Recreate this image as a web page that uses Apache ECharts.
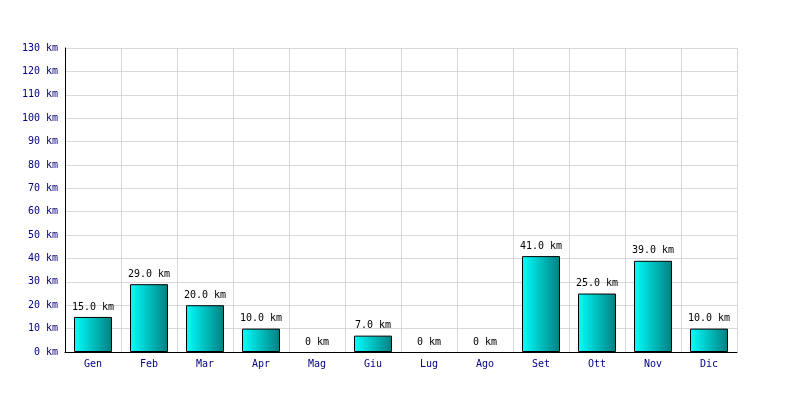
<!DOCTYPE html>
<html><head><meta charset="utf-8">
<script src="https://cdn.jsdelivr.net/npm/echarts@6/dist/echarts.min.js"></script>
<style>html,body{margin:0;padding:0;background:#fff}#c{width:800px;height:400px}</style>
</head><body><div id="c"></div>
<script>
const categories = ['Gen','Feb','Mar','Apr','Mag','Giu','Lug','Ago','Set','Ott','Nov','Dic'];
const values = [15, 29, 20, 10, 0, 7, 0, 0, 41, 25, 39, 10];
const yMax = 130, yStep = 10;
const font = 'DejaVu Sans Mono';
const chart = echarts.init(document.getElementById('c'));
chart.setOption({
  animation: false,
  grid: {left: 65, right: 63, top: 48, bottom: 48, containLabel: false},
  xAxis: {
    type: 'category', data: categories,
    axisLine: {show: true, lineStyle: {color: '#000', width: 1}},
    axisTick: {show: false},
    axisLabel: {color: '#000080', fontFamily: font, fontSize: 10, margin: 7},
    splitLine: {show: true, lineStyle: {color: '#d9d9d9', width: 1}}
  },
  yAxis: {
    type: 'value', min: 0, max: yMax, interval: yStep,
    axisLine: {show: true, lineStyle: {color: '#000', width: 1}},
    axisTick: {show: false},
    axisLabel: {color: '#000080', fontFamily: font, fontSize: 10, margin: 7, formatter: v => v + ' km'},
    splitLine: {show: true, lineStyle: {color: '#d9d9d9', width: 1}}
  },
  series: [{
    type: 'bar', barWidth: 38,
    data: values.map(v => v === 0 ? {value: v, itemStyle: {borderWidth: 0, color: 'rgba(0,0,0,0)'}} : v),
    itemStyle: {
      borderColor: '#000', borderWidth: 1,
      color: new echarts.graphic.LinearGradient(0, 0, 1, 0, [
        {offset: 0, color: '#00ffff'}, {offset: 1, color: '#008080'}
      ])
    },
    label: {
      show: true, position: 'top', distance: 5, color: '#000', fontFamily: font, fontSize: 10,
      formatter: p => p.value === 0 ? '0 km' : p.value.toFixed(1) + ' km'
    }
  }]
});
</script></body></html>
